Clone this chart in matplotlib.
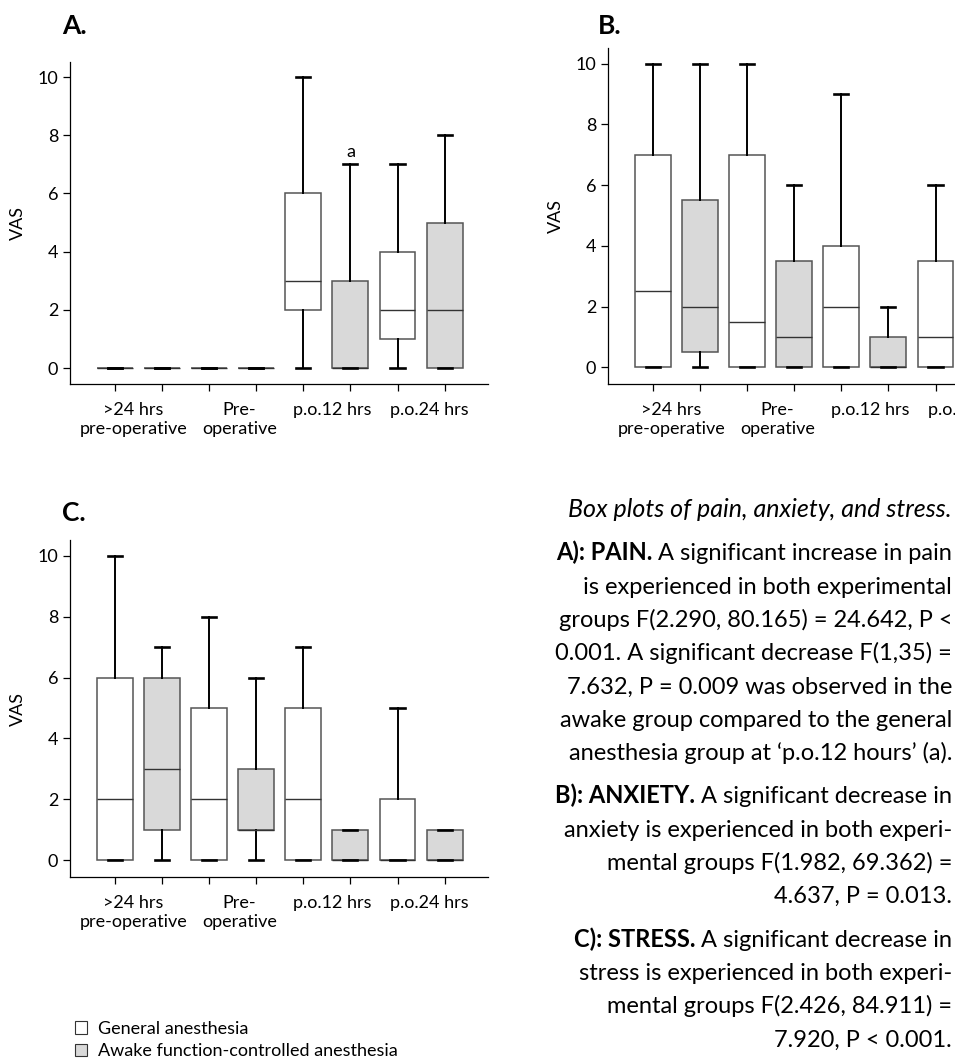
import matplotlib
matplotlib.use("Agg")
import matplotlib.pyplot as plt
from matplotlib.patches import Patch

plt.rcParams['font.family'] = ['Lato', 'DejaVu Sans']

W, H = 955, 1061

groups = [">24 hrs\npre-operative", "Pre-\noperative", "p.o.12 hrs", "p.o.24 hrs"]
series = ["General anesthesia", "Awake function-controlled anesthesia"]

# boxes in order: general, awake for each time point
pain_low = [0, 0, 0, 0, 0, 0, 0, 0]
pain_q1 = [0, 0, 0, 0, 2, 0, 1, 0]
pain_med = [0, 0, 0, 0, 3, 0, 2, 2]
pain_q3 = [0, 0, 0, 0, 6, 3, 4, 5]
pain_high = [0, 0, 0, 0, 10, 7, 7, 8]

anx_low = [0, 0, 0, 0, 0, 0, 0, 0]
anx_q1 = [0, 0.5, 0, 0, 0, 0, 0, 0]
anx_med = [2.5, 2, 1.5, 1, 2, 0, 1, 0]
anx_q3 = [7, 5.5, 7, 3.5, 4, 1, 3.5, 1]
anx_high = [10, 10, 10, 6, 9, 2, 6, 2]

stress_low = [0, 0, 0, 0, 0, 0, 0, 0]
stress_q1 = [0, 1, 0, 1, 0, 0, 0, 0]
stress_med = [2, 3, 2, 1, 2, 0, 0, 0]
stress_q3 = [6, 6, 5, 3, 5, 1, 2, 1]
stress_high = [10, 7, 8, 6, 7, 1, 5, 1]

caption_title = "Box plots of pain, anxiety, and stress."
caption_blocks = [
    ("A): PAIN.", [" A significant increase in pain",
                   "is experienced in both experimental",
                   "groups F(2.290, 80.165) = 24.642, P <",
                   "0.001. A significant decrease F(1,35) =",
                   "7.632, P = 0.009 was observed in the",
                   "awake group compared to the general",
                   "anesthesia group at \u2018p.o.12 hours\u2019 (a)."]),
    ("B): ANXIETY.", [" A significant decrease in",
                      "anxiety is experienced in both experi-",
                      "mental groups F(1.982, 69.362) =",
                      "4.637, P = 0.013."]),
    ("C): STRESS.", [" A significant decrease in",
                     "stress is experienced in both experi-",
                     "mental groups F(2.426, 84.911) =",
                     "7.920, P < 0.001."]),
]

fills = ["white", "#d9d9d9"]
edge = "#555555"
fs = 13


def box_panel(rect, low, q1, med, q3, high, letter, letter_xy):
    ax = fig.add_axes(rect)
    stats = [dict(whislo=a, q1=b, med=c, q3=d, whishi=e, fliers=[])
             for a, b, c, d, e in zip(low, q1, med, q3, high)]
    bp = ax.bxp(stats, positions=range(1, 9), widths=0.76, capwidths=0.3,
                patch_artist=True, showfliers=False,
                boxprops=dict(edgecolor=edge, linewidth=1.1),
                whiskerprops=dict(color="black", linewidth=1.4),
                capprops=dict(color="black", linewidth=1.9, zorder=4),
                medianprops=dict(color="#333333", linewidth=1.0))
    for i, b in enumerate(bp["boxes"]):
        b.set_facecolor(fills[i % 2])
    ax.set_xlim(0.05, 8.92)
    ax.set_ylim(-0.55, 10.52)
    ax.set_yticks(range(0, 11, 2))
    ax.set_xticks(range(1, 9))
    ax.set_xticklabels([])
    # group labels sit roughly between each pair of boxes
    ax.set_xticks([1.4, 3.65, 5.62, 7.68], labels=groups, minor=True)
    ax.tick_params(axis="x", which="minor", length=0, pad=13, labelsize=fs)
    ax.tick_params(axis="both", which="major", length=5, width=0.9,
                   direction="out", labelsize=fs)
    for lab in ax.get_xticklabels(minor=True):
        lab.set_linespacing(1.2)
    for s in ["top", "right"]:
        ax.spines[s].set_visible(False)
    for s in ["left", "bottom"]:
        ax.spines[s].set_linewidth(0.9)
    ax.set_ylabel("VAS", fontsize=fs)
    ax.yaxis.set_label_coords(-0.105, 0.5)
    fig.text(letter_xy[0] / W, 1 - letter_xy[1] / H, letter, fontsize=19,
             fontweight="bold", va="baseline")
    return ax


fig = plt.figure(figsize=(W / 100, H / 100), dpi=100)

axA = box_panel([70 / W, 1 - 384 / H, 418 / W, 322 / H],
                pain_low, pain_q1, pain_med, pain_q3, pain_high, "A.", (62, 34))
axA.text(6, 7.15, "a", ha="center", va="bottom", fontsize=fs)

box_panel([608 / W, 1 - 384 / H, 418 / W, 336 / H],
          anx_low, anx_q1, anx_med, anx_q3, anx_high, "B.", (598, 34))

box_panel([70 / W, 1 - 877 / H, 418 / W, 337 / H],
          stress_low, stress_q1, stress_med, stress_q3, stress_high, "C.", (62, 521))

# caption on the right
cap = fig.add_axes([0, 0, 1, 1])
cap.axis("off")
cap.set_xlim(0, W)
cap.set_ylim(H, 0)
xr = 952
y = 517
cfs = 17
cap.text(xr, y, caption_title, ha="right", va="baseline", fontsize=18,
         style="italic")
line_h = 33.3
for head, lines in caption_blocks:
    y += line_h + 10
    for k, line in enumerate(lines):
        t = cap.text(xr, y, line, ha="right", va="baseline", fontsize=cfs)
        if k == 0:
            cap.annotate(head, xy=(0, 0), xycoords=t, ha="right", va="bottom",
                         fontsize=cfs, fontweight="bold")
        if k < len(lines) - 1:
            y += line_h

handles = [Patch(facecolor=f, edgecolor="#333333", linewidth=0.8) for f in fills]
fig.legend(handles, series, loc="upper left", bbox_to_anchor=(75 / W, 1 - 1021 / H),
           frameon=False, fontsize=fs, handlelength=0.68, handleheight=0.68,
           handletextpad=0.6, labelspacing=0.35, borderpad=0, borderaxespad=0)

fig.savefig("out.png", dpi=100)
